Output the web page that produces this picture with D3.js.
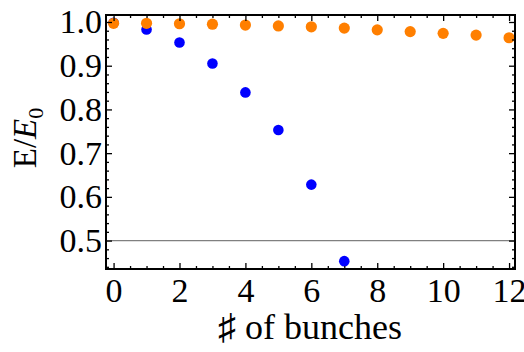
<!DOCTYPE html>
<html>
<head>
<meta charset="utf-8">
<script src="https://cdn.jsdelivr.net/npm/d3@7"></script>
<style>
  html, body { margin: 0; padding: 0; background: #fff; }
  svg { display: block; }
</style>
</head>
<body>
<svg id="chart" width="524" height="352"></svg>
<script>
// Relative energy per bunch index for two cases
const bunches = [0, 1, 2, 3, 4, 5, 6, 7, 8, 9, 10, 11, 12];
const blueBunches = [0, 1, 2, 3, 4, 5, 6, 7];
const blueValues = [0.998, 0.983, 0.953, 0.905, 0.839, 0.753, 0.628, 0.453];
const orangeValues = [0.997, 0.997, 0.996, 0.995, 0.993, 0.991, 0.989, 0.986, 0.982, 0.978, 0.974, 0.970, 0.964];
const xMajorTicks = [0, 2, 4, 6, 8, 10, 12];
const yMajorTicks = [0.5, 0.6, 0.7, 0.8, 0.9, 1.0];
const threshold = 0.5;

const serif = '"Liberation Serif", "Times New Roman", Times, serif';
const svg = d3.select("#chart");
const frameLeft = 106, frameRight = 515, frameTop = 15, frameBottom = 269;

const x = d3.scaleLinear().domain([-0.23, 12.18]).range([frameLeft, frameRight]);
const y = d3.scaleLinear().domain([0.435, 1.0160]).range([frameBottom, frameTop]);

const xMinor = d3.range(0, 12.01, 0.5).filter(v => !xMajorTicks.includes(v));
const yMinor = d3.range(0.44, 1.0101, 0.02).map(v => +v.toFixed(2))
  .filter(v => !yMajorTicks.some(t => Math.abs(t - v) < 1e-9));

// threshold line
svg.append("line")
  .attr("x1", frameLeft).attr("x2", frameRight)
  .attr("y1", y(threshold)).attr("y2", y(threshold))
  .attr("stroke", "#808080").attr("stroke-width", 1.2);

// points
svg.append("g").selectAll("circle")
  .data(blueBunches.map((b, i) => [b, blueValues[i]]))
  .join("circle")
  .attr("cx", d => x(d[0])).attr("cy", d => y(d[1]))
  .attr("r", 5.3).attr("fill", "#0000ff");

svg.append("g").selectAll("circle")
  .data(bunches.map((b, i) => [b, orangeValues[i]]))
  .join("circle")
  .attr("cx", d => x(d[0])).attr("cy", d => y(d[1]))
  .attr("r", 5.6).attr("fill", "#ff7f00");

// frame axes, ticks pointing inward
function styleAxis(g) {
  g.select(".domain").remove();
  g.selectAll(".tick line").attr("stroke", "#000").attr("stroke-width", 1.3);
  g.selectAll(".tick text").style("font-family", serif).style("font-size", "34px").attr("fill", "#000");
}

svg.append("g").attr("transform", `translate(0,${frameBottom})`)
  .call(d3.axisBottom(x).tickValues(xMajorTicks).tickSize(-6).tickPadding(9).tickFormat(d3.format("d")))
  .call(styleAxis)
  .call(g => g.selectAll(".tick text").attr("dy", "0.71em"));
svg.append("g").attr("transform", `translate(0,${frameBottom})`)
  .call(d3.axisBottom(x).tickValues(xMinor).tickSize(-3).tickFormat(""))
  .call(styleAxis);
svg.append("g").attr("transform", `translate(0,${frameTop})`)
  .call(d3.axisTop(x).tickValues(xMajorTicks).tickSize(-6).tickFormat(""))
  .call(styleAxis);
svg.append("g").attr("transform", `translate(0,${frameTop})`)
  .call(d3.axisTop(x).tickValues(xMinor).tickSize(-3).tickFormat(""))
  .call(styleAxis);

svg.append("g").attr("transform", `translate(${frameLeft},0)`)
  .call(d3.axisLeft(y).tickValues(yMajorTicks).tickSize(-6).tickPadding(4).tickFormat(d3.format(".1f")))
  .call(styleAxis);
svg.append("g").attr("transform", `translate(${frameLeft},0)`)
  .call(d3.axisLeft(y).tickValues(yMinor).tickSize(-3).tickFormat(""))
  .call(styleAxis);
svg.append("g").attr("transform", `translate(${frameRight},0)`)
  .call(d3.axisRight(y).tickValues(yMajorTicks).tickSize(-6).tickFormat(""))
  .call(styleAxis);
svg.append("g").attr("transform", `translate(${frameRight},0)`)
  .call(d3.axisRight(y).tickValues(yMinor).tickSize(-3).tickFormat(""))
  .call(styleAxis);

// frame
svg.append("rect")
  .attr("x", frameLeft).attr("y", frameTop)
  .attr("width", frameRight - frameLeft).attr("height", frameBottom - frameTop)
  .attr("fill", "none").attr("stroke", "#000").attr("stroke-width", 2);

// axis titles
svg.append("text")
  .attr("x", 310).attr("y", 339)
  .attr("text-anchor", "middle")
  .style("font-family", serif).style("font-size", "36px")
  .text("\u266F of bunches");

const yt = svg.append("text")
  .attr("transform", `translate(36,138) rotate(-90)`)
  .attr("text-anchor", "middle")
  .style("font-family", serif).style("font-size", "33px");
yt.append("tspan").text("E/");
yt.append("tspan").style("font-style", "italic").text("E");
yt.append("tspan").style("font-size", "22px").attr("dy", 7).text("0");
</script>
</body>
</html>
